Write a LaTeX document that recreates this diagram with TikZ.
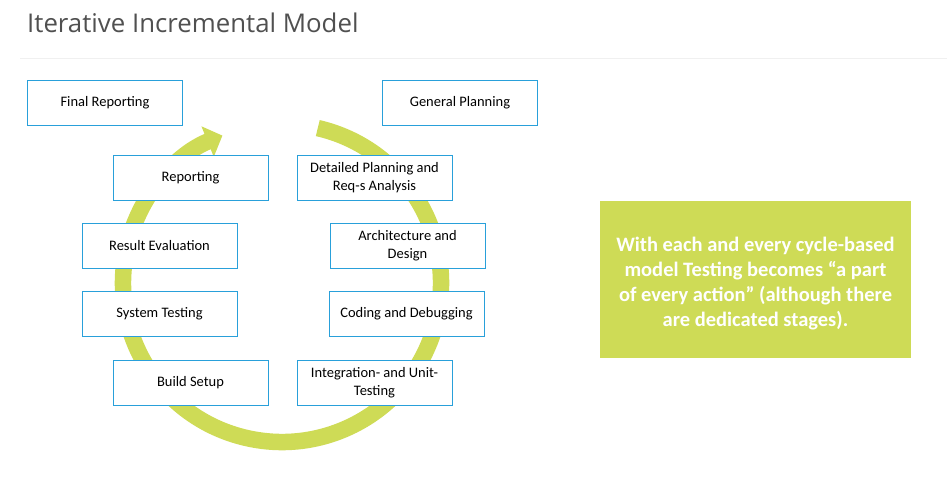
\documentclass[tikz,border=0pt]{standalone}
\usepackage{fontspec}
\setmainfont{Carlito}
\newfontfamily\titlefont{Open Sans}
\usetikzlibrary{positioning,arrows.meta}
\definecolor{boxblue}{RGB}{41,160,218}
\definecolor{cyclegreen}{RGB}{206,219,86}
\definecolor{titlegray}{RGB}{80,80,80}
\tikzset{stage box/.style={draw=boxblue, fill=white, line width=1pt, minimum width=155pt, minimum height=45pt, inner sep=2pt, align=center, font=\fontsize{14.5}{18}\selectfont},}

\begin{document}
\begin{tikzpicture}[x=1pt,y=1pt]
        \useasboundingbox (0,0) rectangle (947,-485);
        % Title
        \node[anchor=base west, inner sep=0pt, font=\titlefont\fontsize{25.8}{30}\selectfont, text=titlegray] (title) at (27,-32) {Iterative Incremental Model};
        \coordinate (rule west) at (20,-58);
        \coordinate (rule east) at (947,-58);
        \draw[gray!12, line width=1pt] (rule west) -- (rule east);
        % Cycle
        \coordinate (hub) at (282,-283);
        \draw[cyclegreen, line width=16.5pt, -{Triangle[length=16pt, width=32pt]}] (hub) ++(77:159) arc[start angle=77, end angle=-248, radius=159];
        % Nodes
        \node[stage box] (final) at (105,-103) {Final Reporting};
        \node[stage box] [right = 199pt of final] (general) {General Planning};
        \node[stage box] (report) at (190.5,-177.5) {Reporting};
        \node[stage box] [right = 28pt of report] (detail) {Detailed Planning and\\Req-s Analysis};
        \node[stage box] (result) at (159.5,-246) {Result Evaluation};
        \node[stage box] [right = 92pt of result] (arch) {Architecture and\\Design};
        \node[stage box] (system) at (159.5,-314) {System Testing};
        \node[stage box] [right = 91pt of system] (coding) {Coding and Debugging};
        \node[stage box] (build) at (190.5,-382.5) {Build Setup};
        \node[stage box] [right = 28pt of build] (integr) {Integration- and Unit-\\Testing};
        % Note
        \node[fill=cyclegreen, minimum width=311pt, minimum height=157pt] (note) at (755.5,-279) {};
        \node[text=white, align=center, font=\bfseries\fontsize{20.5}{25}\selectfont] (note text) at ([yshift=-5pt]note.center) {With each and every cycle-based\\model Testing becomes “a part\\of every action” (although there\\are dedicated stages).};
    \end{tikzpicture}
\end{document}
